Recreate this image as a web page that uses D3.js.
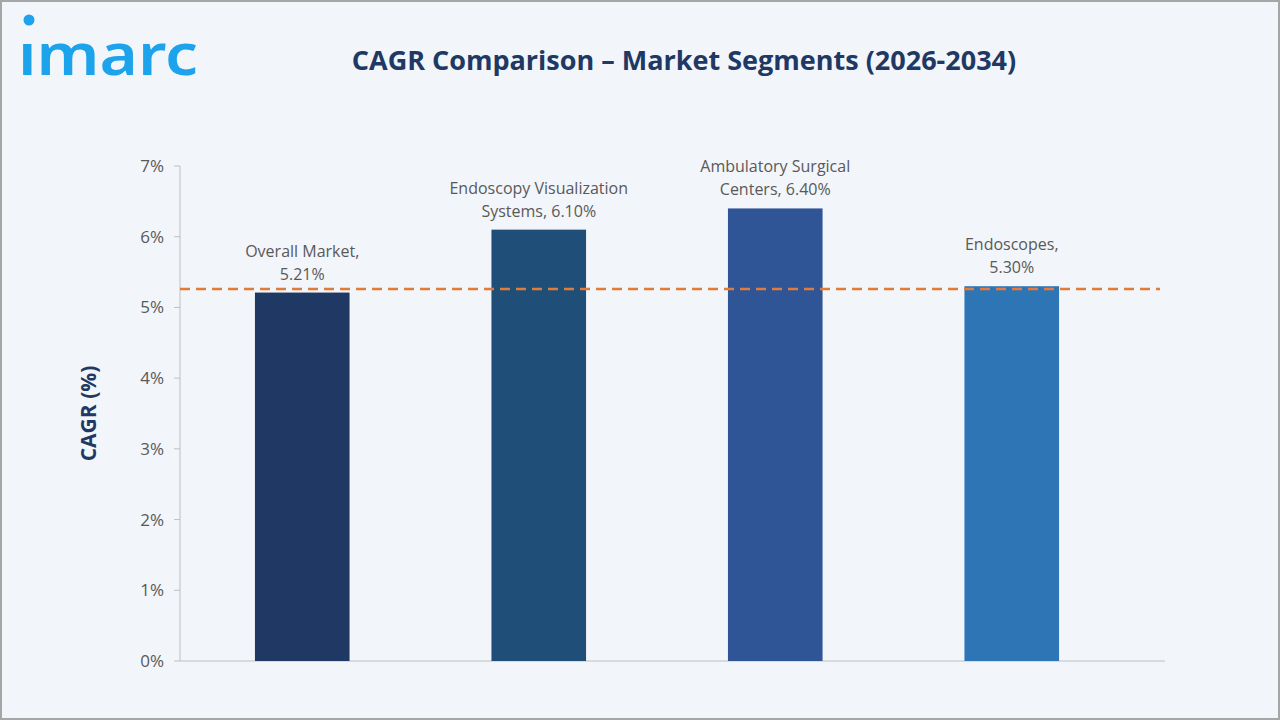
<!DOCTYPE html>
<html><head><meta charset="utf-8">
<script src="https://cdn.jsdelivr.net/npm/d3@7"></script>
<style>body{margin:0;background:#fff}svg{display:block;font-family:"Open Sans",sans-serif}</style>
</head><body><div id="chart"></div>
<script>
const categories = ['Overall Market', 'Endoscopy Visualization Systems', 'Ambulatory Surgical Centers', 'Endoscopes'];
const labelLines = [['Overall Market,', '5.21%'], ['Endoscopy Visualization', 'Systems, 6.10%'], ['Ambulatory Surgical', 'Centers, 6.40%'], ['Endoscopes,', '5.30%']];
const values = [5.21, 6.10, 6.40, 5.30];
const colours = ['#203864', '#1f4e79', '#2f5597', '#2e75b6'];
const yTicks = [0, 1, 2, 3, 4, 5, 6, 7];
const refLine = 5.26;

const svg = d3.select('#chart').append('svg').attr('width', 1280).attr('height', 720);
svg.append('rect').attr('x', 1).attr('y', 1).attr('width', 1278).attr('height', 718)
  .attr('fill', '#f2f5f9').attr('stroke', '#a6a6a6').attr('stroke-width', 2);

// logo
svg.append('text').attr('x', 18).attr('y', 75).attr('fill', '#1ca3ec')
  .attr('textLength', 180).attr('lengthAdjust', 'spacingAndGlyphs')
  .style('font-family', '"Noto Sans", sans-serif').style('font-size', '58px').style('font-weight', 600)
  .text('ımarc');
svg.append('circle').attr('cx', 29).attr('cy', 20).attr('r', 5.5).attr('fill', '#1ca3ec');

svg.append('text').attr('x', 684).attr('y', 70).attr('text-anchor', 'middle')
  .attr('fill', '#203864').style('font-size', '27px').style('font-weight', 'bold')
  .text('CAGR Comparison – Market Segments (2026-2034)');

const x = d3.scaleBand().domain(categories).range([184, 1130]).paddingInner(0.6).paddingOuter(0.3);
const y = d3.scaleLinear().domain([0, 7]).range([661, 166]);

const g = svg.append('g');
g.append('line').attr('x1', 180).attr('x2', 180).attr('y1', y(7)).attr('y2', y(0)).attr('stroke', '#bfbfbf');
g.append('line').attr('x1', 180).attr('x2', 1165).attr('y1', y(0)).attr('y2', y(0)).attr('stroke', '#bfbfbf');
g.selectAll('.tk').data(yTicks).enter().append('line')
  .attr('x1', 174).attr('x2', 180).attr('y1', d => y(d)).attr('y2', d => y(d)).attr('stroke', '#bfbfbf');
g.selectAll('.tl').data(yTicks).enter().append('text')
  .attr('x', 164).attr('y', d => y(d) + 6).attr('text-anchor', 'end')
  .attr('fill', '#595959').style('font-size', '17px').text(d => d + '%');

svg.append('text').attr('transform', 'translate(96,' + y(3.5) + ') rotate(-90)')
  .attr('text-anchor', 'middle').attr('fill', '#203864').style('font-size', '21px').style('font-weight', 'bold')
  .text('CAGR (%)');

g.selectAll('.bar').data(values).enter().append('rect')
  .attr('x', (d, i) => x(categories[i])).attr('width', x.bandwidth())
  .attr('y', d => y(d)).attr('height', d => y(0) - y(d)).attr('fill', (d, i) => colours[i]);

g.append('line').attr('x1', 180).attr('x2', 1160).attr('y1', y(refLine)).attr('y2', y(refLine))
  .attr('stroke', '#e07b39').attr('stroke-width', 2.5).attr('stroke-dasharray', '10,6');

labelLines.forEach((lines, i) => {
  const cx = x(categories[i]) + x.bandwidth() / 2;
  const t = g.append('text').attr('text-anchor', 'middle').attr('fill', '#595959').style('font-size', '16px');
  lines.forEach((l, j) => t.append('tspan').attr('x', cx).attr('y', y(values[i]) - 36 + j * 23).text(l));
});
</script></body></html>
